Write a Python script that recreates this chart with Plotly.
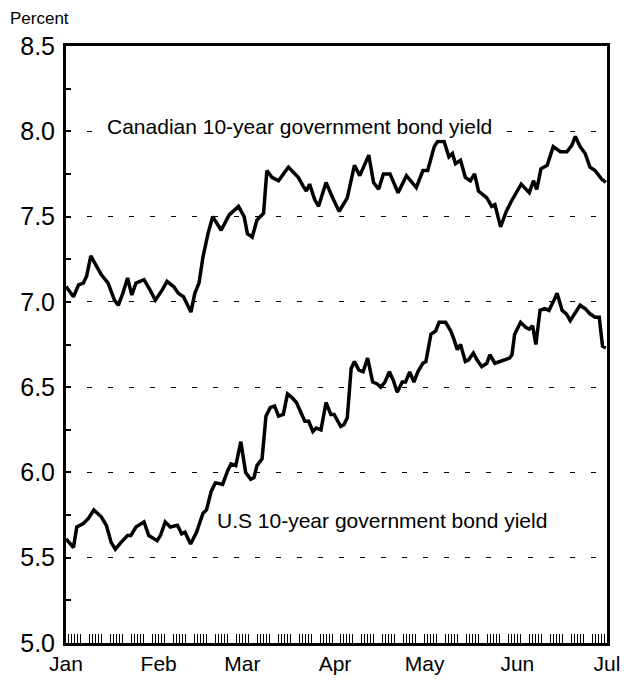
import pandas as pd
import plotly.graph_objects as go

# Day offsets from Jan 1 and yields (percent)
can_days = [0, 2.5, 4.2, 5.8, 6.9, 8.3, 10.2, 11.8, 14.1, 16.2, 17.5, 19.0, 20.6, 22.0, 23.4,
            26.1, 28.1, 29.9, 32.2, 33.8, 36.0, 37.6, 39.3, 41.8, 43.1, 44.5, 45.8, 47.5, 49.1,
            51.9, 54.6, 57.7, 59.6, 60.7, 62.3, 63.9, 66.1, 67.2, 68.9, 71.1, 74.4, 77.7, 79.3,
            80.4, 81.5, 83.2, 84.5, 87.0, 89.2, 91.4, 94.1, 96.5, 98.3, 101.3, 102.9, 104.6,
            106.2, 108.4, 111.1, 113.9, 117.2, 119.4, 121.0, 123.2, 124.3, 126.5, 128.1, 129.3,
            130.3, 132.0, 133.6, 135.3, 136.7, 138.0, 140.8, 142.4, 143.5, 145.4, 147.3, 149.0,
            152.3, 155.0, 156.4, 157.5, 158.9, 161.0, 163.0, 165.4, 167.6, 169.3, 170.4, 172.0,
            173.7, 175.3, 177.0, 179.2, 180.6]
can_yield = [7.09, 7.03, 7.10, 7.11, 7.15, 7.27, 7.21, 7.16, 7.11, 7.01, 6.98, 7.05, 7.14, 7.04, 7.11,
             7.13, 7.07, 7.01, 7.07, 7.12, 7.09, 7.05, 7.03, 6.94, 7.05, 7.11, 7.26, 7.40, 7.50,
             7.42, 7.51, 7.56, 7.50, 7.40, 7.38, 7.48, 7.52, 7.77, 7.73, 7.71, 7.79, 7.73, 7.68,
             7.65, 7.69, 7.60, 7.56, 7.70, 7.61, 7.53, 7.61, 7.80, 7.74, 7.86, 7.70, 7.66,
             7.75, 7.75, 7.64, 7.74, 7.67, 7.77, 7.77, 7.91, 7.94, 7.94, 7.85, 7.87,
             7.81, 7.83, 7.73, 7.71, 7.75, 7.65, 7.61, 7.56, 7.57, 7.44, 7.53, 7.59,
             7.69, 7.64, 7.71, 7.66, 7.78, 7.80, 7.91, 7.88, 7.88, 7.92, 7.97, 7.91,
             7.87, 7.79, 7.77, 7.72, 7.70]

us_days = [0, 2.5, 3.6, 5.8, 7.5, 9.3, 11.8, 13.5, 15.1, 16.5, 18.4, 20.6, 21.7, 23.4, 26.1,
           27.7, 30.5, 31.6, 33.2, 34.9, 37.3, 38.7, 39.8, 41.7, 43.7, 45.8, 47.0, 48.6, 50.0,
           52.4, 54.1, 55.2, 56.8, 58.5, 60.1, 61.8, 62.9, 63.9, 65.6, 66.9, 68.3, 69.8, 71.1,
           72.7, 74.1, 75.5, 77.1, 79.9, 81.2, 82.6, 83.7, 85.3, 87.0, 88.6, 89.7, 91.9, 93.0,
           94.1, 95.4, 96.5, 98.0, 99.4, 100.9, 102.6, 104.0, 105.3, 106.7, 108.2, 109.5, 110.8,
           112.5, 113.6, 115.0, 116.4, 117.7, 119.4, 120.4, 122.1, 123.7, 124.8, 127.0, 128.7,
           129.8, 130.9, 132.0, 133.6, 134.7, 136.3, 137.5, 139.1, 140.8, 141.8, 143.5, 145.1,
           146.8, 148.4, 149.2, 150.1, 152.1, 153.9, 155.0, 156.1, 157.2, 158.6, 160.2, 161.6,
           163.0, 164.3, 166.0, 167.4, 168.7, 170.4, 172.0, 173.7, 175.3, 177.0, 178.4, 179.5,
           180.6]
us_yield = [5.61, 5.56, 5.68, 5.70, 5.73, 5.78, 5.74, 5.69, 5.59, 5.55, 5.59, 5.63, 5.63, 5.68, 5.71,
            5.63, 5.60, 5.63, 5.71, 5.68, 5.69, 5.64, 5.65, 5.58, 5.65, 5.76, 5.78, 5.89, 5.94,
            5.93, 6.01, 6.05, 6.04, 6.18, 6.00, 5.96, 5.97, 6.04, 6.08, 6.33, 6.38, 6.39, 6.33,
            6.34, 6.46, 6.44, 6.41, 6.30, 6.30, 6.24, 6.26, 6.25, 6.41, 6.34, 6.34, 6.27, 6.28,
            6.32, 6.61, 6.65, 6.60, 6.59, 6.67, 6.53, 6.52, 6.50, 6.53, 6.59, 6.54, 6.47,
            6.53, 6.53, 6.59, 6.53, 6.59, 6.64, 6.65, 6.81, 6.83, 6.88, 6.88, 6.83,
            6.78, 6.72, 6.75, 6.65, 6.66, 6.70, 6.66, 6.62, 6.64, 6.69, 6.64, 6.65,
            6.66, 6.67, 6.69, 6.81, 6.88, 6.85, 6.84, 6.86, 6.75, 6.95, 6.96, 6.95,
            7.00, 7.05, 6.95, 6.93, 6.89, 6.94, 6.98, 6.96, 6.93, 6.91, 6.91, 6.74,
            6.73]

month_ticks = ["1995-01-01", "1995-02-01", "1995-03-01", "1995-04-01", "1995-05-01", "1995-06-01", "1995-07-01"]
month_labels = ["Jan", "Feb", "Mar", "Apr", "May", "Jun", "Jul"]
y_ticks = [5.0, 5.5, 6.0, 6.5, 7.0, 7.5, 8.0, 8.5]
y_labels = ["5.0", "5.5", "6.0", "6.5", "7.0", "7.5", "8.0", "8.5"]

base = pd.Timestamp("1995-01-01")
can_x = [base + pd.Timedelta(days=d) for d in can_days]
us_x = [base + pd.Timedelta(days=d) for d in us_days]

font = "Liberation Sans, Arial, sans-serif"
fig = go.Figure()
fig.add_trace(go.Scatter(x=can_x, y=can_yield, mode="lines",
                         line=dict(color="black", width=3.5), showlegend=False))
fig.add_trace(go.Scatter(x=us_x, y=us_yield, mode="lines",
                         line=dict(color="black", width=3.5), showlegend=False))

bdays = [d.strftime("%Y-%m-%d") for d in pd.bdate_range("1995-01-02", "1995-06-30")]

fig.update_xaxes(type="date", range=["1995-01-01", "1995-07-01"],
                 tickmode="array", tickvals=month_ticks, ticktext=month_labels,
                 ticks="", showgrid=False, zeroline=False,
                 showline=True, linecolor="black", linewidth=3, mirror=True,
                 tickfont=dict(family=font, size=21, color="black"),
                 minor=dict(tickmode="array", tickvals=bdays, ticks="inside",
                            ticklen=9, tickwidth=1, tickcolor="black", showgrid=False))
fig.update_yaxes(range=[5.0, 8.5], tickmode="array", tickvals=y_ticks, ticktext=y_labels,
                 ticks="inside", ticklen=5, tickwidth=1.5, tickcolor="black",
                 ticklabelstandoff=3,
                 showgrid=True, gridcolor="black", gridwidth=1.2, griddash="5px,16px",
                 zeroline=False, showline=True, linecolor="black", linewidth=3, mirror=True,
                 tickfont=dict(family=font, size=25, color="black"),
                 minor=dict(dtick=0.25, ticks="inside", ticklen=5, tickwidth=1.5,
                            tickcolor="black", showgrid=False))

fig.add_annotation(x=base + pd.Timedelta(days=13.0), y=8.03, xref="x", yref="y",
                   text="Canadian 10-year government bond yield", showarrow=False,
                   xanchor="left", yanchor="middle", bgcolor="white",
                   font=dict(family=font, size=21, color="black"))
fig.add_annotation(x=base + pd.Timedelta(days=50.0), y=5.716, xref="x", yref="y",
                   text="U.S 10-year government bond yield", showarrow=False,
                   xanchor="left", yanchor="middle",
                   font=dict(family=font, size=21, color="black"))
fig.add_annotation(x=-0.106, y=1.0636, xref="paper", yref="paper", text="Percent",
                   showarrow=False, xanchor="left", yanchor="top", borderpad=0,
                   font=dict(family=font, size=17, color="black"))

fig.update_layout(width=624, height=682, margin=dict(l=56, r=18, t=38, b=47),
                  plot_bgcolor="white", paper_bgcolor="white",
                  font=dict(family=font, color="black"))
fig.write_html("out.html")
